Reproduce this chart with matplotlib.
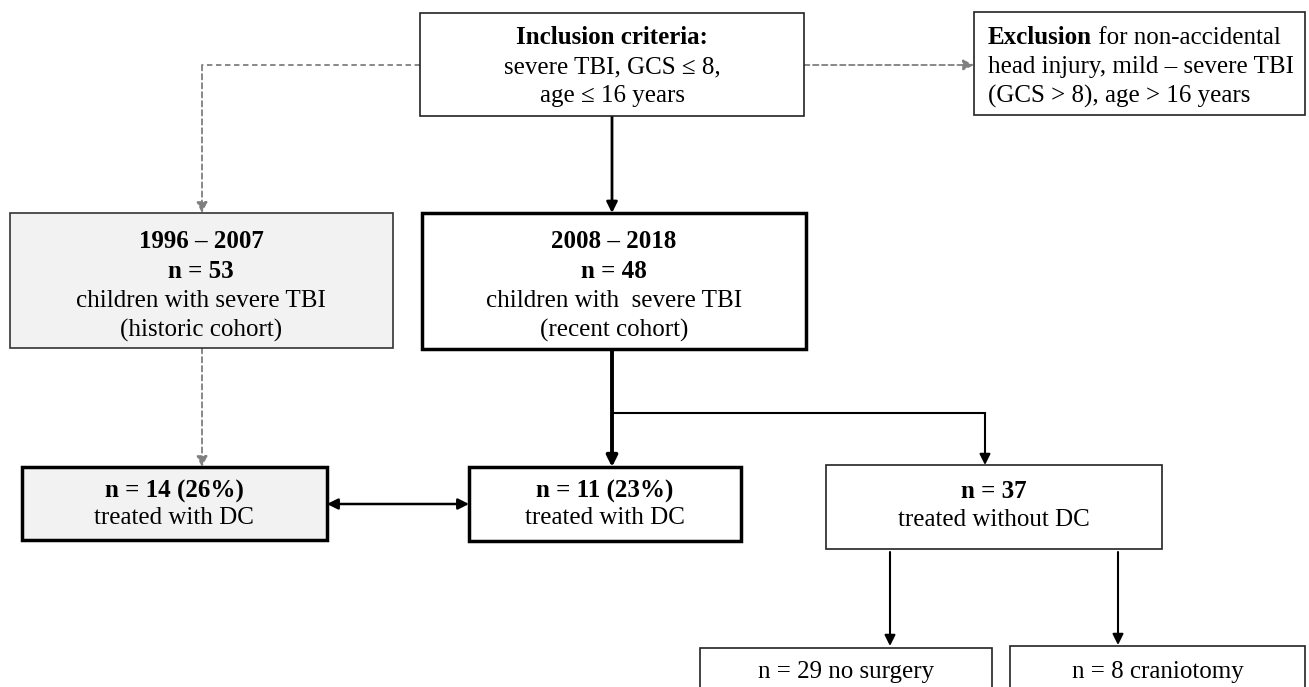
import matplotlib
matplotlib.use('Agg')
import matplotlib.pyplot as plt
from matplotlib.patches import Rectangle

plt.rcParams['font.family'] = ['Liberation Serif', 'DejaVu Serif']
plt.rcParams['font.size'] = 18

# box texts (bold lines, then normal lines)
incl_bold = ['Inclusion criteria:']
incl_text = ['severe TBI, GCS \u2264 8,', 'age \u2264 16 years']
excl_lines = ['head injury, mild \u2013 severe TBI', '(GCS > 8), age > 16 years']
hist_bold = ['1996 \u2013 2007', 'n = 53']
hist_text = ['children with severe TBI', '(historic cohort)']
rec_bold = ['2008 \u2013 2018', 'n = 48']
rec_text = ['children with  severe TBI', '(recent cohort)']
dc_hist = ['n = 14 (26%)', 'treated with DC']
dc_rec = ['n = 11 (23%)', 'treated with DC']
no_dc = ['n = 37', 'treated without DC']
no_surg = 'n = 29 no surgery'
cranio = 'n = 8 craniotomy'

W, H = 1309, 687
fig = plt.figure(figsize=(W / 100, H / 100), dpi=100)
ax = fig.add_axes([0, 0, 1, 1])
ax.set_xlim(0, W)
ax.set_ylim(H, 0)
ax.axis('off')

GRAY = '#f2f2f2'
DASH = '#7f7f7f'


def box(x0, y0, x1, y1, lw=1.2, fc='white', ec='#222222'):
    ax.add_patch(Rectangle((x0, y0), x1 - x0, y1 - y0, fc=fc, ec=ec, lw=lw, zorder=2))


def lines(cx, ys, texts, weights):
    for y, t, w in zip(ys, texts, weights):
        ax.text(cx, y, t, ha='center', va='center', fontweight=w, zorder=3)


def arrow(x0, y0, x1, y1, color='black', lw=1.5, ls='-', style='-|>'):
    ax.annotate('', xy=(x1, y1), xytext=(x0, y0),
                arrowprops=dict(arrowstyle=style, color=color, lw=lw, ls=ls,
                                mutation_scale=16, shrinkA=0, shrinkB=0), zorder=1)


def seg(xs, ys, color='black', lw=1.5, ls='-'):
    ax.plot(xs, ys, color=color, lw=lw, ls=ls, zorder=1, solid_capstyle='projecting')


# inclusion box
box(420, 13, 804, 116)
lines(612, [38, 67, 96], incl_bold + incl_text, ['bold', 'normal', 'normal'])

# exclusion box
box(974, 12, 1305, 115)
t = ax.text(988, 38, 'Exclusion', ha='left', va='center', fontweight='bold', zorder=3)
ax.annotate(' for non-accidental', xy=(1, 0), xycoords=t, ha='left', va='bottom', zorder=3)
for y, s in zip([67, 96], excl_lines):
    ax.text(988, y, s, ha='left', va='center', zorder=3)

# dashed connectors from inclusion box
seg([420, 202], [65, 65], color=DASH, lw=1.3, ls=(0, (3, 2)))
arrow(202, 65, 202, 213, color=DASH, lw=1.3, ls=(0, (3, 2)))
arrow(804, 65, 974, 65, color=DASH, lw=1.3, ls=(0, (3, 2)))

# inclusion -> recent
arrow(612, 116, 612, 213, lw=2)

# cohort boxes
box(10, 213, 393, 348, fc=GRAY, ec='#333333')
lines(201, [242, 271, 301, 330], hist_bold + hist_text, ['bold', 'bold', 'normal', 'normal'])
box(422, 213, 806, 349, lw=2.5, ec='black')
lines(614, [242, 271, 301, 330], rec_bold + rec_text, ['bold', 'bold', 'normal', 'normal'])

# historic -> DC
arrow(202, 348, 202, 467, color=DASH, lw=1.3, ls=(0, (3, 2)))

# recent -> DC / no DC
arrow(612, 349, 612, 467, lw=2.8)
seg([612, 985], [413, 413], lw=1.5)
arrow(985, 413, 985, 465, lw=1.5)

# DC boxes
box(22, 467, 327, 540, lw=2.5, fc=GRAY, ec='black')
lines(174, [491, 518], dc_hist, ['bold', 'normal'])
box(469, 467, 741, 541, lw=2.5, ec='black')
lines(605, [491, 518], dc_rec, ['bold', 'normal'])
arrow(327, 504, 469, 504, lw=1.8, style='<|-|>')

# no DC box
box(826, 465, 1162, 549)
lines(994, [491, 520], no_dc, ['bold', 'normal'])
arrow(890, 552, 890, 646, lw=1.5)
arrow(1118, 552, 1118, 645, lw=1.5)

# bottom boxes
box(700, 648, 992, 720)
ax.text(846, 672, no_surg, ha='center', va='center', zorder=3)
box(1010, 646, 1305, 720)
ax.text(1158, 672, cranio, ha='center', va='center', zorder=3)

fig.savefig('out.png', dpi=100)
